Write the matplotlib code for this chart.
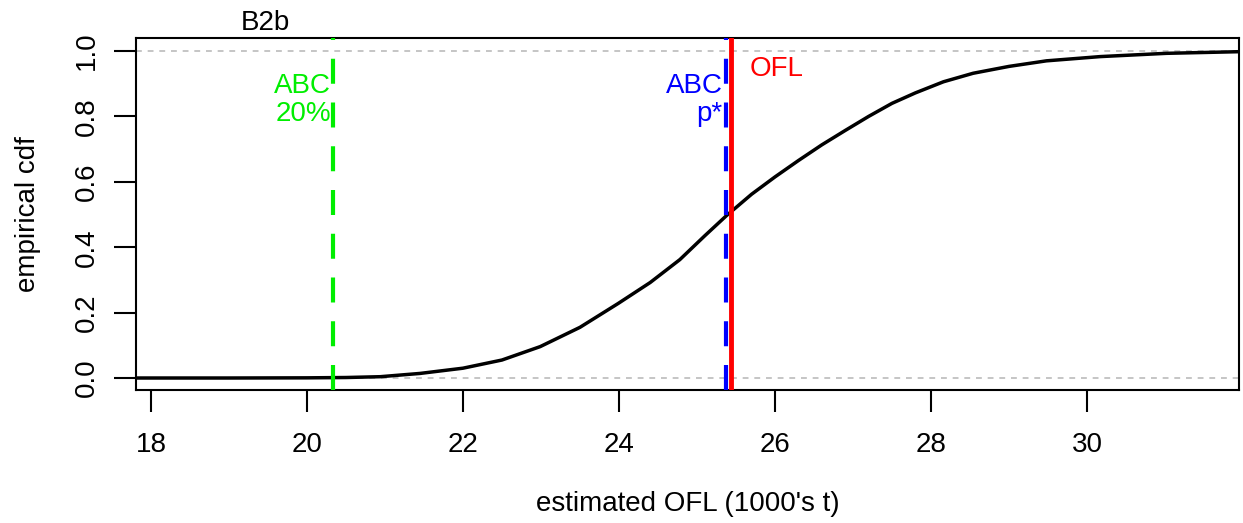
import matplotlib
matplotlib.use("Agg")
import matplotlib.pyplot as plt

# ---- data ----
ofl_x = [17.80, 19.0, 20.0, 20.5, 20.94, 21.45, 22.0, 22.5, 22.99, 23.5, 23.99,
         24.4, 24.78, 25.1, 25.38, 25.7, 26.0, 26.3, 26.6, 26.9, 27.2,
         27.5, 27.8, 28.16, 28.54, 29.0, 29.48, 30.17, 31.02, 31.95]
ofl_cdf = [0.0, 0.0, 0.0005, 0.0015, 0.004, 0.014, 0.03, 0.055, 0.096, 0.155, 0.228,
           0.292, 0.362, 0.435, 0.497, 0.562, 0.615, 0.665, 0.713, 0.757, 0.80,
           0.84, 0.872, 0.906, 0.932, 0.953, 0.970, 0.983, 0.993, 0.998]

abc20 = 20.33
abc_pstar = 25.37
ofl = 25.43

x_ticks = [18, 20, 22, 24, 26, 28, 30]
y_ticks = [0.0, 0.2, 0.4, 0.6, 0.8, 1.0]

plt.rcParams["font.family"] = ["Liberation Sans", "DejaVu Sans"]
FS = 20

fig = plt.figure(figsize=(12.43, 5.23), dpi=100)
ax = fig.add_axes([0.1094, 0.2543, 0.9968 - 0.1094, 0.9273 - 0.2543])

# reference lines at 0 and 1
for yv in (0.0, 1.0):
    ax.axhline(yv, color="#bbbbbb", lw=1.2, dashes=(3.5, 3.5), zorder=1)

ax.plot(ofl_x, ofl_cdf, color="black", lw=2.5, zorder=3)

ax.axvline(abc20, color="#00ee00", lw=3.0, dashes=(6, 4.5), zorder=4)
ax.axvline(abc_pstar, color="#0000ff", lw=3.0, dashes=(6, 4.5), zorder=4)
ax.axvline(ofl, color="#ff0000", lw=3.5, zorder=5)

ax.text(abc20 - 0.02, 0.85, "ABC\n20%", color="#00ee00", fontsize=FS,
        ha="right", va="center", linespacing=1.1, zorder=2)
ax.text(abc_pstar - 0.04, 0.85, "ABC\np*", color="#0000ff", fontsize=FS,
        ha="right", va="center", linespacing=1.1, ma="right", zorder=2)
ax.text(ofl + 0.25, 0.945, "OFL", color="#ff0000", fontsize=FS,
        ha="left", va="center")

ax.set_xlim(17.808, 31.949)
ax.set_ylim(-0.0367, 1.0398)
ax.set_xticks(x_ticks)
ax.set_yticks(y_ticks)
ax.set_yticklabels([f"{v:.1f}" for v in y_ticks], rotation=90, va="center")
ax.tick_params(axis="both", labelsize=FS, length=16, width=1.5, direction="out")
ax.tick_params(axis="x", pad=14)
ax.tick_params(axis="y", pad=10)
for s in ax.spines.values():
    s.set_linewidth(1.5)

ax.set_xlabel("estimated OFL (1000's t)", fontsize=FS, labelpad=24)
ax.set_ylabel("empirical cdf", fontsize=FS, labelpad=24)
ax.text(0.117, 1.006, "B2b", transform=ax.transAxes, fontsize=FS,
        ha="center", va="bottom")

fig.savefig("out.png", dpi=100)
